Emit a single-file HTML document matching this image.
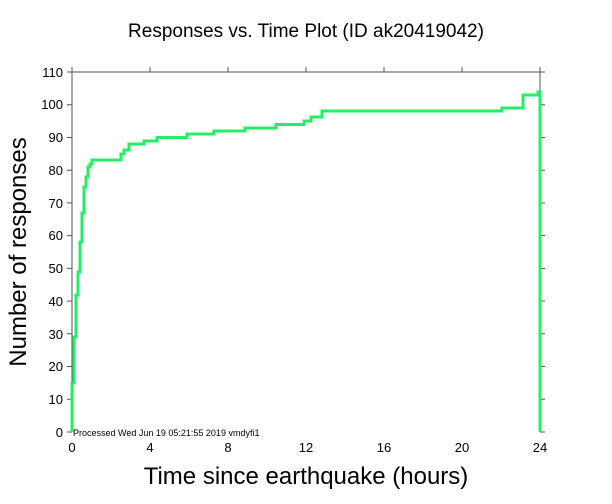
<!DOCTYPE html>
<html><head><style>body{margin:0;background:#fff}svg{display:block}</style></head><body>
<svg width="612" height="504" xmlns="http://www.w3.org/2000/svg" font-family="Liberation Sans, sans-serif">
<rect width="612" height="504" fill="#fff"/>
<text x="306" y="37" font-size="19" text-anchor="middle">Responses vs. Time Plot (ID ak20419042)</text>
<g stroke="#555" stroke-width="1" fill="none">
<path d="M72,72V432 M72,72H540V432"/>
<path d="M72,72v-5 M150,72v-5 M228,72v-5 M306,72v-5 M384,72v-5 M462,72v-5 M540,72v-5"/>
<path d="M72,432h-5 M72,399.3h-5 M72,366.5h-5 M72,333.8h-5 M72,301.1h-5 M72,268.4h-5 M72,235.6h-5 M72,202.9h-5 M72,170.2h-5 M72,137.5h-5 M72,104.7h-5 M72,72h-5"/>
<path d="M540,432h5 M540,399.3h5 M540,366.5h5 M540,333.8h5 M540,301.1h5 M540,268.4h5 M540,235.6h5 M540,202.9h5 M540,170.2h5 M540,137.5h5 M540,104.7h5 M540,72h5"/>
</g>
<g font-size="13" text-anchor="end">
<text x="63" y="437">0</text><text x="63" y="404">10</text><text x="63" y="371">20</text><text x="63" y="339">30</text><text x="63" y="306">40</text><text x="63" y="273">50</text><text x="63" y="240">60</text><text x="63" y="208">70</text><text x="63" y="175">80</text><text x="63" y="142">90</text><text x="63" y="109">100</text><text x="63" y="77">110</text>
</g>
<g font-size="13" text-anchor="middle">
<text x="72" y="452">0</text><text x="150" y="452">4</text><text x="228" y="452">8</text><text x="306" y="452">12</text><text x="384" y="452">16</text><text x="462" y="452">20</text><text x="540" y="452">24</text>
</g>
<text x="306" y="484" font-size="24" text-anchor="middle">Time since earthquake (hours)</text>
<text transform="translate(26,252) rotate(-90)" font-size="24" text-anchor="middle">Number of responses</text>
<text x="73" y="436" font-size="9">Processed Wed Jun 19 05:21:55 2019 vmdyfi1</text>
<polyline fill="none" stroke="#22ee66" stroke-width="3" points="72,432 72,383 74,383 74,337 76,337 76,295 78,295 78,272 80,272 80,242 82,242 82,213 84,213 84,187 86,187 86,177 88,177 88,167 90,167 90,164 92,164 92,160 121,160 121,154 124,154 124,150 129,150 129,144 144,144 144,141 157,141 157,137.5 187,137.5 187,134 214,134 214,131 245,131 245,128 276,128 276,124.5 304,124.5 304,121 311,121 311,117 322,117 322,111 502,111 502,108 523,108 523,95 538,95 538,92 540,92 540,432"/>
</svg>
</body></html>
